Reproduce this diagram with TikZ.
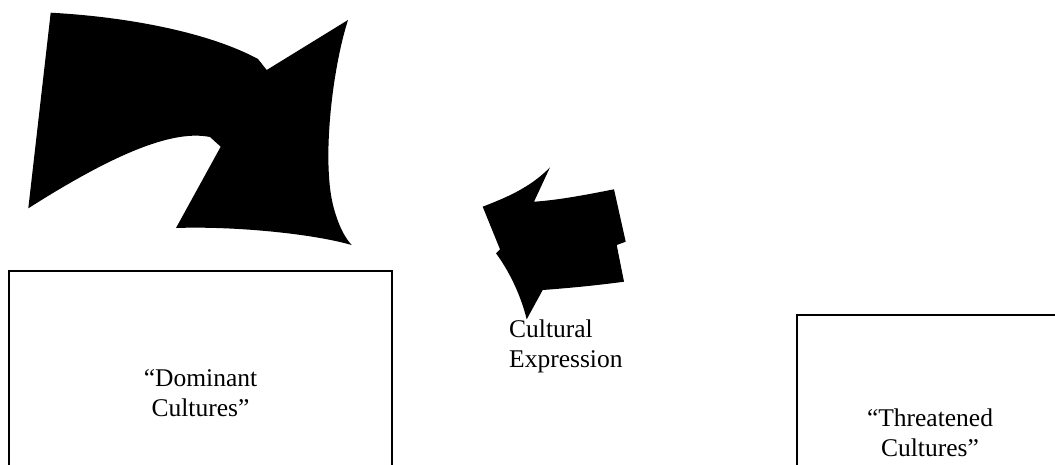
\documentclass[tikz,border=0pt]{standalone}
\usepackage{fontspec}
\setmainfont{Liberation Serif}
\begin{document}
\begin{tikzpicture}[x=1pt,y=-1pt,
  box/.style={draw=black, line width=1.8pt, rectangle, align=center, inner sep=0pt,
    font=\fontsize{25.5}{30}\selectfont},
  label/.style={align=left, inner sep=0pt, font=\fontsize{25.5}{30}\selectfont},
  blob/.style={fill=black, draw=none}]
\useasboundingbox (0,0) rectangle (1055,464);
% big arrow
\path[blob] (50.7,12.7) .. controls (130,17) and (210,33) .. (258,59) -- (266.7,70)
  -- (348,20) .. controls (332,70) and (322,160) .. (333,205)
  .. controls (338,225) and (345,238) .. (351.7,245)
  .. controls (310,233) and (230,226) .. (176,228)
  -- (220.7,146.7) -- (210,137)
  .. controls (175,130) and (120,150) .. (28.3,208.3) -- cycle;
% small arrow
\path[blob] (550,167.3) -- (534,201.7) .. controls (560,200) and (590,194) .. (614,189.3)
  -- (625.7,241.7) -- (616.7,245) -- (624,281.7)
  .. controls (600,285) and (570,288) .. (542.7,290)
  -- (526.7,319.3) .. controls (522,300) and (512,275) .. (496,253.3)
  -- (500,249.3) -- (482.7,206.7)
  .. controls (505,198) and (530,188) .. (550,167.3) -- cycle;
\node[box, minimum width=383pt, minimum height=244pt] (dom) at (200.5,393) {“Dominant\\Cultures”};
\node[box, minimum width=266pt, minimum height=236pt] (thr) at (930,433) {“Threatened\\Cultures”};
\node[label, anchor=north west] (ce) at (509,320) {Cultural\\Expression};
\end{tikzpicture}
\end{document}
